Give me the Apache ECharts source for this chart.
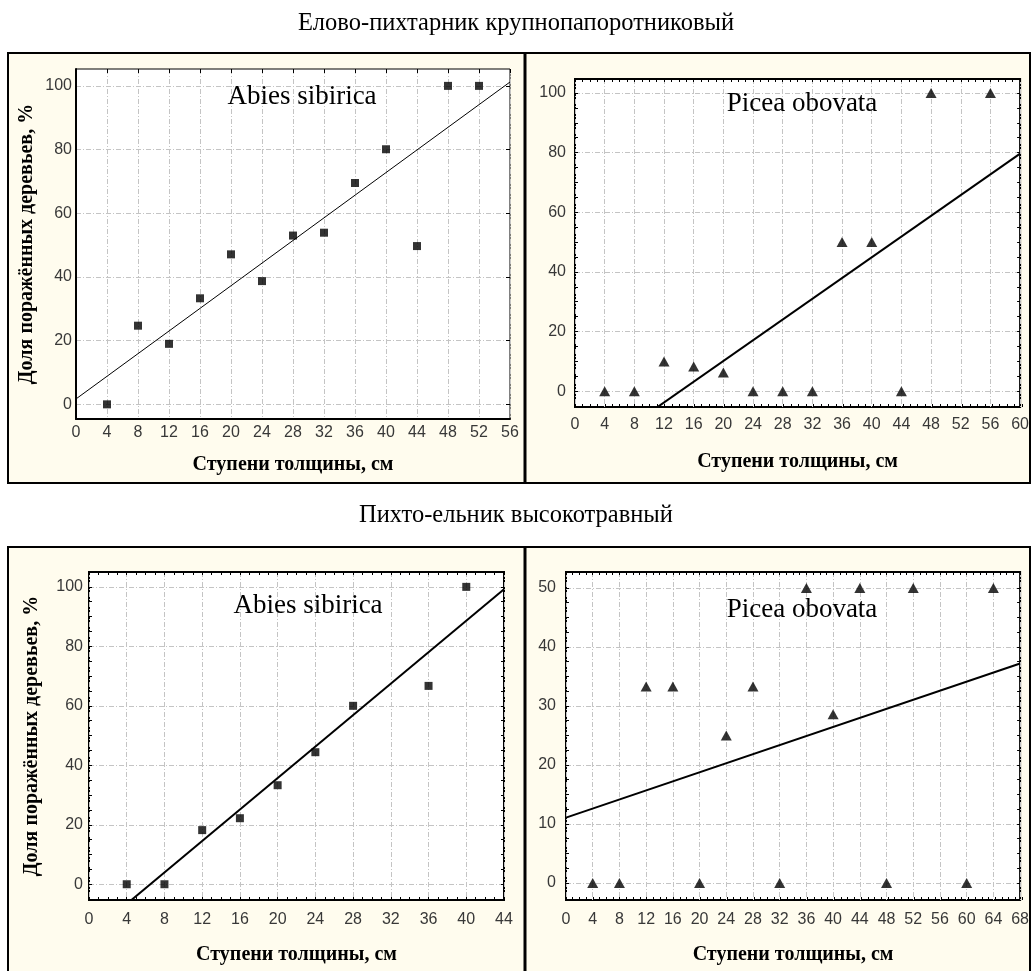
<!DOCTYPE html>
<html>
<head>
<meta charset="utf-8">
<script src="https://cdn.jsdelivr.net/npm/echarts@6/dist/echarts.min.js"></script>
<style>
html,body{margin:0;padding:0;background:#fff;}
#chart{width:1032px;height:971px;}
</style>
</head>
<body>
<div id="chart"></div>
<script>
// ---- texts ----
const sectionTitles = ['Елово-пихтарник крупнопапоротниковый', 'Пихто-ельник высокотравный'];
const speciesNames = ['Abies sibirica', 'Picea obovata'];
const xTitle = 'Ступени толщины, см';
const yTitle = 'Доля поражённых деревьев, %';

// ---- top-left: Abies sibirica (Елово-пихтарник) ----
const tlX = [4, 8, 12, 16, 20, 24, 28, 32, 36, 40, 44, 48, 52];
const tlY = [0, 24.7, 19, 33.3, 47.1, 38.7, 53, 53.9, 69.5, 80.1, 49.7, 100, 100];
const tlFit = [1.7, 1.777];          // intercept, slope
const tlXRange = [0, 56];
const tlYRange = [-4.6, 105.3];
const tlXTicks = [0, 4, 8, 12, 16, 20, 24, 28, 32, 36, 40, 44, 48, 52, 56];
const tlYTicks = [0, 20, 40, 60, 80, 100];

// ---- top-right: Picea obovata (Елово-пихтарник) ----
const trX = [4, 8, 12, 16, 20, 24, 28, 32, 36, 40, 44, 48, 56];
const trY = [0, 0, 10, 8.3, 6.3, 0, 0, 0, 50, 50, 0, 100, 100];
const trFit = [-24.65, 1.739];
const trXRange = [0, 60];
const trYRange = [-5.3, 104.7];
const trXTicks = [0, 4, 8, 12, 16, 20, 24, 28, 32, 36, 40, 44, 48, 52, 56, 60];
const trYTicks = [0, 20, 40, 60, 80, 100];

// ---- bottom-left: Abies sibirica (Пихто-ельник) ----
const blX = [4, 8, 12, 16, 20, 24, 28, 36, 40];
const blY = [0, 0, 18.2, 22.2, 33.3, 44.4, 60, 66.7, 100];
const blFit = [-17.2, 2.645];
const blXRange = [0, 44];
const blYRange = [-5.3, 105];
const blXTicks = [0, 4, 8, 12, 16, 20, 24, 28, 32, 36, 40, 44];
const blYTicks = [0, 20, 40, 60, 80, 100];

// ---- bottom-right: Picea obovata (Пихто-ельник) ----
const brX = [4, 8, 12, 16, 20, 24, 28, 32, 36, 40, 44, 48, 52, 60, 64];
const brY = [0, 0, 33.3, 33.3, 0, 25, 33.3, 0, 50, 28.6, 50, 0, 50, 0, 50];
const brFit = [11.07, 0.384];
const brXRange = [0, 68];
const brYRange = [-2.9, 52.7];
const brXTicks = [0, 4, 8, 12, 16, 20, 24, 28, 32, 36, 40, 44, 48, 52, 56, 60, 64, 68];
const brYTicks = [0, 10, 20, 30, 40, 50];

// minor ticks: split each major interval into n parts
function minorTicks(majors, n) {
  const out = [];
  for (let i = 0; i < majors.length - 1; i++) {
    const a = majors[i], b = majors[i + 1];
    for (let k = 0; k < n; k++) out.push(a + (b - a) * k / n);
  }
  out.push(majors[majors.length - 1]);
  return out;
}

const panels = [
  { x: tlX, y: tlY, fit: tlFit, xr: tlXRange, yr: tlYRange, xt: tlXTicks, yt: tlYTicks,
    sym: 'rect', symSize: 8, lineW: 1, border: 1, thickAxis: true, minor: false,
    rect: { left: 76, top: 69, width: 434, height: 350 },
    xMargin: 6, yMargin: 4, xGap: 36, yGap: 39, yName: true,
    label: speciesNames[0], labelPos: [302, 97] },
  { x: trX, y: trY, fit: trFit, xr: trXRange, yr: trYRange, xt: trXTicks, yt: trYTicks,
    sym: 'triangle', symSize: [11, 10], lineW: 2, border: 2, thickAxis: false, minor: true, xn: 4, yn: 4,
    rect: { left: 575, top: 79, width: 447, height: 328 },
    xMargin: 10, yMargin: 9, xGap: 45, yGap: 40, yName: false,
    label: speciesNames[1], labelPos: [802, 104] },
  { x: blX, y: blY, fit: blFit, xr: blXRange, yr: blYRange, xt: blXTicks, yt: blYTicks,
    sym: 'rect', symSize: 8, lineW: 2, border: 2, thickAxis: false, minor: true, xn: 4, yn: 4,
    rect: { left: 89, top: 572, width: 415, height: 328 },
    xMargin: 12, yMargin: 6, xGap: 45, yGap: 47, yName: true,
    label: speciesNames[0], labelPos: [308, 606] },
  { x: brX, y: brY, fit: brFit, xr: brXRange, yr: brYRange, xt: brXTicks, yt: brYTicks,
    sym: 'triangle', symSize: [11, 10], lineW: 2, border: 2, thickAxis: false, minor: true, xn: 4, yn: 4,
    rect: { left: 566, top: 572, width: 456, height: 328 },
    xMargin: 12, yMargin: 10, xGap: 45, yGap: 40, yName: false,
    label: speciesNames[1], labelPos: [802, 610] }
];

const grids = [], xAxes = [], yAxes = [], series = [], graphics = [];
const labelStyle = { fontFamily: 'Liberation Sans', fontSize: 16, color: '#383838' };
const nameStyle = { fontFamily: 'Liberation Serif', fontWeight: 'bold', fontSize: 20, color: '#000' };
const gridLine = { show: true, lineStyle: { color: '#c4c4c4', width: 1, type: [5, 2, 1, 2] } };

function tickAxis(gi, pos, range, values, len) {
  return {
    gridIndex: gi, type: 'value', position: pos, min: range[0], max: range[1],
    axisLine: { show: false, onZero: false },
    axisLabel: { show: false },
    splitLine: { show: false },
    axisTick: { show: true, inside: true, length: len, customValues: values, lineStyle: { color: '#000', width: 1 } }
  };
}

panels.forEach(p => {
  const g = grids.length;
  grids.push(Object.assign({ show: true, backgroundColor: '#ffffff', borderColor: '#000', borderWidth: p.border }, p.rect));
  const xi = xAxes.length, yi = yAxes.length;
  xAxes.push({
    gridIndex: g, type: 'value', position: 'bottom', min: p.xr[0], max: p.xr[1],
    axisLine: { show: p.thickAxis, onZero: false, lineStyle: { color: '#000', width: 2 } },
    axisTick: { show: false, customValues: p.xt },
    axisLabel: Object.assign({ customValues: p.xt, margin: p.xMargin }, labelStyle),
    splitLine: gridLine,
    name: xTitle, nameLocation: 'middle', nameGap: p.xGap, nameTextStyle: nameStyle
  });
  yAxes.push({
    gridIndex: g, type: 'value', position: 'left', min: p.yr[0], max: p.yr[1],
    axisLine: { show: p.thickAxis, onZero: false, lineStyle: { color: '#000', width: 2 } },
    axisTick: { show: false, customValues: p.yt },
    axisLabel: Object.assign({ customValues: p.yt, margin: p.yMargin }, labelStyle),
    splitLine: gridLine,
    name: p.yName ? yTitle : '', nameLocation: 'middle', nameGap: p.yGap, nameTextStyle: nameStyle
  });
  if (p.minor) {
    const xm = minorTicks(p.xt, p.xn), ym = minorTicks(p.yt, p.yn);
    xAxes.push(tickAxis(g, 'top', p.xr, xm, 3));
    yAxes.push(tickAxis(g, 'right', p.yr, ym, 3));
    const g2 = grids.length;
    grids.push(Object.assign({ show: false }, p.rect));
    xAxes.push(tickAxis(g2, 'bottom', p.xr, xm, 3));
    yAxes.push(tickAxis(g2, 'left', p.yr, ym, 3));
  } else {
    xAxes.push(tickAxis(g, 'top', p.xr, p.xt, 4));
    yAxes.push(tickAxis(g, 'right', p.yr, p.yt, 4));
  }
  series.push({
    type: 'line', xAxisIndex: xi, yAxisIndex: yi, symbol: 'none', clip: true, silent: true,
    lineStyle: { color: '#000', width: p.lineW },
    data: [[p.xr[0], p.fit[0] + p.fit[1] * p.xr[0]], [p.xr[1], p.fit[0] + p.fit[1] * p.xr[1]]],
    z: 3
  });
  series.push({
    type: 'scatter', xAxisIndex: xi, yAxisIndex: yi, symbol: p.sym, symbolSize: p.symSize,
    itemStyle: { color: '#000' }, silent: true, z: 4,
    data: p.x.map((v, i) => [v, p.y[i]])
  });
  graphics.push({
    type: 'text', z: 100, x: p.labelPos[0], y: p.labelPos[1],
    style: { text: p.label, fill: '#000', font: '27px "Liberation Serif"', textAlign: 'center', textVerticalAlign: 'middle' }
  });
});

// section frames
[[53, 430], [547, 460]].forEach(f => {
  graphics.push({ type: 'rect', z: -5, shape: { x: 8, y: f[0], width: 1022, height: f[1] },
    style: { fill: '#fffcee', stroke: '#000', lineWidth: 2 } });
  graphics.push({ type: 'line', z: -4, shape: { x1: 525, y1: f[0], x2: 525, y2: f[0] + f[1] },
    style: { stroke: '#000', lineWidth: 3 } });
});

const chart = echarts.init(document.getElementById('chart'), null, { renderer: 'canvas' });
chart.setOption({
  animation: false,
  backgroundColor: '#ffffff',
  title: [
    { text: sectionTitles[0], left: 'center', top: 6,
      textStyle: { fontFamily: 'Liberation Serif', fontWeight: 'normal', fontSize: 24.5, color: '#000' } },
    { text: sectionTitles[1], left: 'center', top: 498,
      textStyle: { fontFamily: 'Liberation Serif', fontWeight: 'normal', fontSize: 24.5, color: '#000' } }
  ],
  grid: grids,
  xAxis: xAxes,
  yAxis: yAxes,
  series: series,
  graphic: graphics
});
</script>
</body>
</html>
